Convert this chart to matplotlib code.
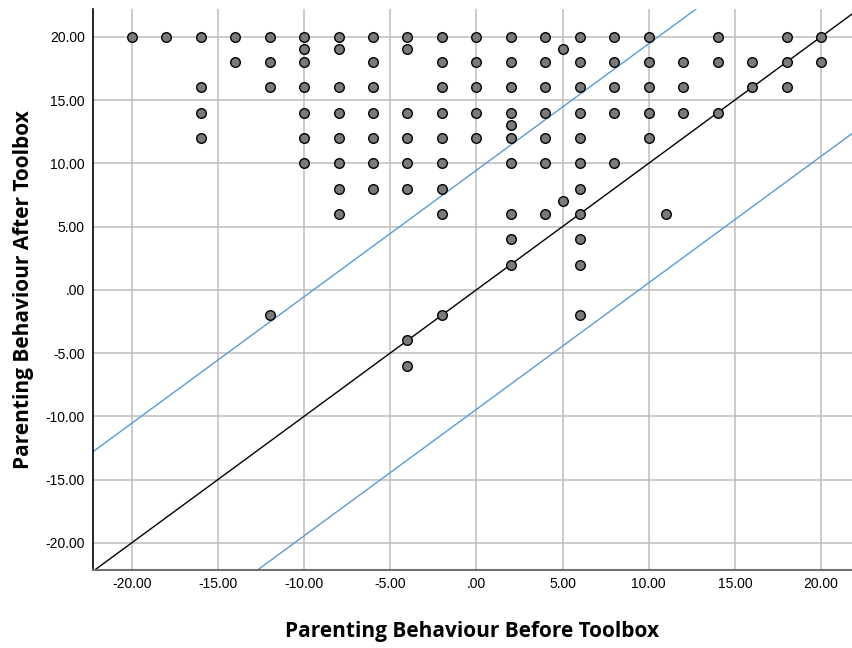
import matplotlib
matplotlib.use("Agg")
import matplotlib.pyplot as plt
import numpy as np

# Points grouped by "after" value (y): list of "before" values (x)
rows = {
    20: [-20, -18, -16, -14, -12, -10, -8, -6, -4, -2, 0, 2, 4, 6, 8, 10, 14, 18, 20],
    19: [-10, -8, -4, 5],
    18: [-14, -12, -10, -6, -2, 0, 2, 4, 6, 8, 10, 12, 14, 16, 18, 20],
    16: [-16, -12, -10, -8, -6, -2, 0, 2, 4, 6, 8, 10, 12, 16, 18],
    14: [-16, -10, -8, -6, -4, -2, 0, 2, 4, 6, 8, 10, 12, 14],
    13: [2],
    12: [-16, -10, -8, -6, -4, -2, 0, 2, 4, 6, 10],
    10: [-10, -8, -6, -4, -2, 2, 4, 6, 8],
    8: [-8, -6, -4, -2, 6],
    7: [5],
    6: [-8, -2, 2, 4, 6, 11],
    4: [2, 6],
    2: [2, 6],
    -2: [-12, -2, 6],
    -4: [-4],
    -6: [-4],
}
before = []
after = []
for yv, xs in rows.items():
    for xv in xs:
        before.append(xv)
        after.append(yv)

limit_offset = 9.45
ticks = [-20, -15, -10, -5, 0, 5, 10, 15, 20]

def fmt(v):
    s = f"{v:.2f}"
    if s.startswith("0"):
        s = s[1:]
    return s

tick_labels = [fmt(t) for t in ticks]

fig = plt.figure(figsize=(8.53, 6.48), dpi=100)
ax = fig.add_axes([93/853, 1-570/648, (852-93)/853, (570-9)/648])
xlim = (-22.25, 21.8)
ylim = (-22.15, 22.2)
ax.set_xlim(*xlim)
ax.set_ylim(*ylim)

ax.set_xticks(ticks)
ax.set_yticks(ticks)
ax.set_xticklabels(tick_labels, fontfamily="Liberation Sans", fontsize=10)
ax.set_yticklabels(tick_labels, fontfamily="Liberation Sans", fontsize=10)
ax.tick_params(axis="x", length=0, pad=5)
ax.tick_params(axis="y", length=0, pad=6)
ax.grid(True, color="#bdbdbd", linewidth=1.1)
ax.set_axisbelow(True)

for s in ["top", "right"]:
    ax.spines[s].set_visible(False)
ax.spines["left"].set_color("black")
ax.spines["bottom"].set_color("#707070")
ax.spines["left"].set_linewidth(1.2)
ax.spines["bottom"].set_linewidth(1.5)

xx = np.array(xlim)
ax.plot(xx, xx, color="black", linewidth=1.0, zorder=2)
ax.plot(xx, xx + limit_offset, color="#5b9bd5", linewidth=1.0, zorder=2)
ax.plot(xx, xx - limit_offset, color="#5b9bd5", linewidth=1.0, zorder=2)

ax.scatter(before, after, s=48, facecolor="#7a7a7a", edgecolor="black",
           linewidth=1.0, zorder=3, clip_on=False)

ax.set_xlabel("Parenting Behaviour Before Toolbox", fontfamily="Open Sans",
              fontweight="bold", fontsize=15, labelpad=22)
ax.set_ylabel("Parenting Behaviour After Toolbox", fontfamily="Open Sans",
              fontweight="bold", fontsize=15, labelpad=8)

fig.savefig("out.png", dpi=100)
